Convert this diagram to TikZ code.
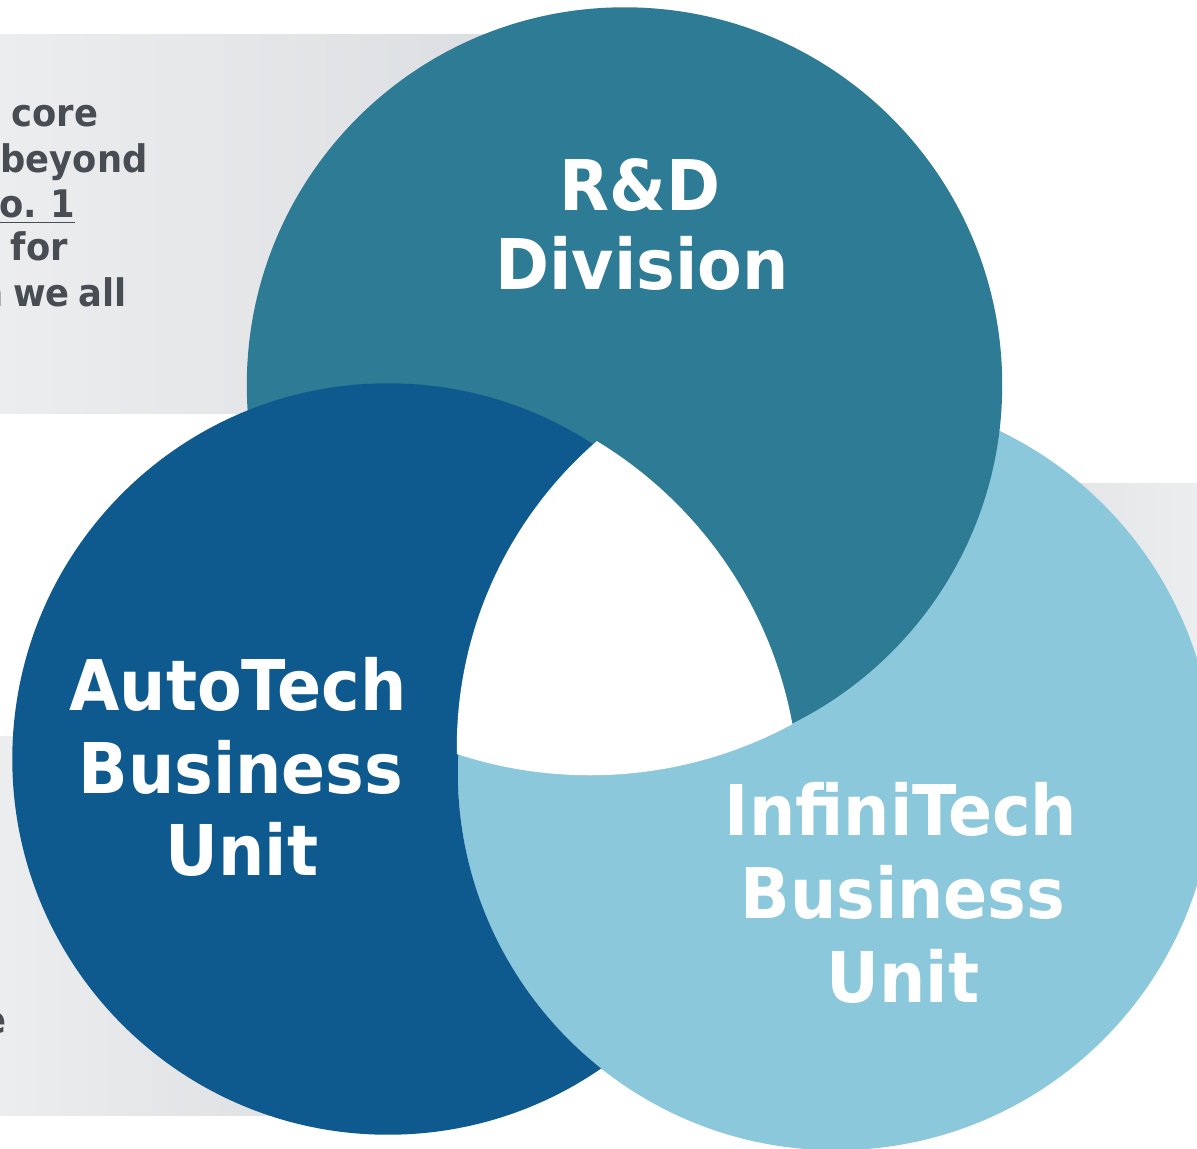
\documentclass[tikz,border=0pt]{standalone}
\usepackage{fontspec}
\newfontfamily\labelfont{DejaVu Sans}[FakeStretch=0.93]
\newfontfamily\bodyfont{DejaVu Sans}[FakeStretch=0.93, WordSpace=0.75]
\definecolor{rdteal}{RGB}{46,123,149}
\definecolor{autoblue}{RGB}{14,90,143}
\definecolor{infiblue}{RGB}{139,200,219}
\definecolor{textgray}{RGB}{71,77,83}
\definecolor{panellight}{RGB}{236,237,239}
\definecolor{paneldark}{RGB}{216,219,222}
\begin{document}
\begin{tikzpicture}[x=0.01cm, y=-0.01cm,
  unitlabel/.style={text=white, inner sep=0pt, anchor=base,
    font=\labelfont\bfseries\fontsize{19.9}{23.6}\selectfont},
  paneltext/.style={text=textgray, inner sep=0pt, anchor=base west,
    font=\bodyfont\bfseries\fontsize{10.8}{13}\selectfont}]
  % canvas
  \useasboundingbox (0,0) rectangle (1197,1148);
  \clip (0,0) rectangle (1197,1148);
  \fill[white] (0,0) rectangle (1197,1148);

  % grey text panels behind the circles
  \shade[left color=panellight, right color=paneldark] (0,34) rectangle (620,413);
  \shade[left color=panellight, right color=paneldark] (0,736) rectangle (420,1115);
  \shade[left color=paneldark, right color=panellight] (900,483) rectangle (1197,870);

  % panel text (continues beyond the left edge)
  \node[paneltext] (t1) at (11,126) {core};
  \node[paneltext] (t2) at (0,172) {beyond};
  \node[paneltext] (t3) at (-1,217) {\underline{o. 1}};
  \node[paneltext] (t4) at (10,260) {for};
  \node[paneltext] (t5) at (-22,306) {n we all};
  \node[paneltext, anchor=base east] (t6) at (7,1033) {e};

  % circle centres
  \coordinate (rdc) at (624.5,385);
  \coordinate (atc) at (388,759);
  \coordinate (itc) at (836,772);

  % interlocking discs: A over C, B over A, C over B
  \fill[infiblue] (itc) circle[radius=3.78cm];
  \fill[rdteal]   (rdc) circle[radius=3.775cm];
  \begin{scope}[even odd rule]
    \clip (-10,-10) rectangle (1210,1160) (itc) circle[radius=3.78cm];
    \fill[autoblue] (atc) circle[radius=3.755cm];
  \end{scope}

  % white core where the three overlap
  \begin{scope}
    \clip (590,350) circle[radius=4.25cm];
    \clip (380,800) circle[radius=4.19cm];
    \fill[white] (863,748) circle[radius=4.06cm];
  \end{scope}

  % labels
  \node[unitlabel] (rd1) at (640,210) {R\&D};
  \node[unitlabel] (rd2) at (642,289) {Division};
  \node[unitlabel] (at1) at (238,710) {AutoTech};
  \node[unitlabel] (at2) at (241,793) {Business};
  \node[unitlabel] (at3) at (242,875) {Unit};
  \node[unitlabel] (it1) at (901,835) {InfiniTech};
  \node[unitlabel] (it2) at (903,918) {Business};
  \node[unitlabel] (it3) at (903,1002) {Unit};
\end{tikzpicture}
\end{document}
